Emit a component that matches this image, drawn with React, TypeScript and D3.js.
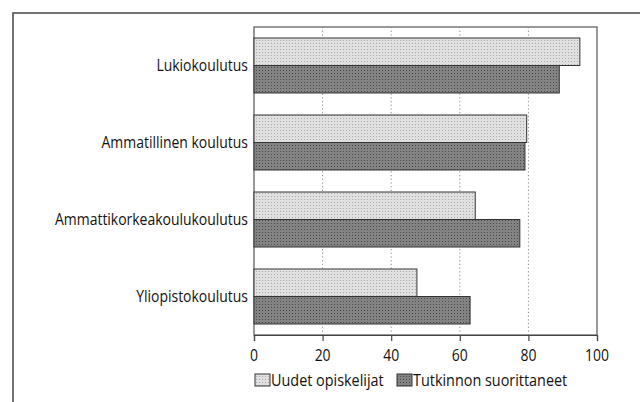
import React, { useEffect, useRef } from 'react'
import * as d3 from 'd3'

const categories = ['Lukiokoulutus', 'Ammatillinen koulutus', 'Ammattikorkeakoulukoulutus', 'Yliopistokoulutus']
const uudet = [95, 79.5, 64.5, 47.5]
const tutkinnon = [89, 79, 77.5, 63]
const seriesNames = ['Uudet opiskelijat', 'Tutkinnon suorittaneet']
const xTicks = [0, 20, 40, 60, 80, 100]

const W = 640
const H = 402
const FONT = '"Open Sans", "Noto Sans", sans-serif'
const SQUEEZE = 0.9 // the original face is narrower than Open Sans

export default function App() {
  const ref = useRef<SVGSVGElement>(null)

  useEffect(() => {
    const svg = d3.select(ref.current)
    svg.selectAll('*').remove()

    const plot = { left: 254, right: 597, top: 27, bottom: 335 }
    const x = d3.scaleLinear().domain([0, 100]).range([plot.left, plot.right])
    const y = d3.scaleBand().domain(categories).range([plot.top, plot.bottom])
    const barH = 27.5

    // narrow text: group at position, text squeezed horizontally
    const label = (px: number, py: number, txt: string, size: number, anchor: string) => {
      svg.append('g')
        .attr('transform', `translate(${px},${py}) scale(${SQUEEZE},1)`)
        .append('text')
        .attr('dy', '0.36em')
        .attr('text-anchor', anchor)
        .attr('font-family', FONT)
        .attr('font-size', size)
        .attr('fill', '#111')
        .text(txt)
    }

    // patterns for the screened fills
    const defs = svg.append('defs')
    const pats = [
      { id: 'light', base: '#e0e0e0', dot: '#aaa' },
      { id: 'dark', base: '#838383', dot: '#4a4a4a' }
    ]
    pats.forEach(p => {
      const pat = defs.append('pattern')
        .attr('id', p.id)
        .attr('width', 3)
        .attr('height', 3)
        .attr('patternUnits', 'userSpaceOnUse')
      pat.append('rect').attr('width', 3).attr('height', 3).attr('fill', p.base)
      pat.append('rect').attr('x', 1).attr('y', 1).attr('width', 1).attr('height', 1).attr('fill', p.dot)
    })

    // outer frame
    svg.append('path')
      .attr('d', `M13,${H} V13 H${W}`)
      .attr('fill', 'none')
      .attr('stroke', '#444')
      .attr('stroke-width', 1.5)

    // plot frame
    svg.append('rect')
      .attr('x', plot.left)
      .attr('y', plot.top)
      .attr('width', plot.right - plot.left)
      .attr('height', plot.bottom - plot.top)
      .attr('fill', '#fff')
      .attr('stroke', '#555')
      .attr('stroke-width', 1.2)

    // dotted grid
    svg.selectAll('.grid')
      .data(xTicks.filter(t => t > 0 && t < 100))
      .enter()
      .append('line')
      .attr('class', 'grid')
      .attr('x1', d => x(d))
      .attr('x2', d => x(d))
      .attr('y1', plot.top)
      .attr('y2', plot.bottom)
      .attr('stroke', '#888')
      .attr('stroke-width', 1)
      .attr('stroke-dasharray', '1.2,2.5')

    // bars
    const g = svg.append('g')
    categories.forEach((c, i) => {
      const cy = (y(c) as number) + y.bandwidth() / 2
      g.append('rect')
        .attr('x', x(0))
        .attr('y', cy - barH)
        .attr('width', x(uudet[i]) - x(0))
        .attr('height', barH)
        .attr('fill', 'url(#light)')
        .attr('stroke', '#333')
        .attr('stroke-width', 1)
      g.append('rect')
        .attr('x', x(0))
        .attr('y', cy)
        .attr('width', x(tutkinnon[i]) - x(0))
        .attr('height', barH)
        .attr('fill', 'url(#dark)')
        .attr('stroke', '#333')
        .attr('stroke-width', 1)
    })

    // category labels
    categories.forEach(c => {
      label(plot.left - 6, (y(c) as number) + y.bandwidth() / 2, c, 15.5, 'end')
    })

    // x axis
    const axis = svg.append('g')
      .attr('transform', `translate(0,${plot.bottom})`)
      .call(d3.axisBottom(x).tickValues(xTicks).tickSize(6).tickFormat(() => ''))
    axis.select('.domain').attr('stroke', '#444').attr('stroke-width', 1.2)
    axis.selectAll('.tick line').attr('stroke', '#444').attr('stroke-width', 1.2)
    xTicks.forEach(t => label(x(t), plot.bottom + 20, String(t), 15.5, 'middle'))

    // legend
    const legX = [255, 397]
    const fills = ['url(#light)', 'url(#dark)']
    seriesNames.forEach((s, i) => {
      svg.append('rect')
        .attr('x', legX[i])
        .attr('y', 374)
        .attr('width', 15)
        .attr('height', 12)
        .attr('fill', fills[i])
        .attr('stroke', '#333')
        .attr('stroke-width', 1)
      label(legX[i] + 16, 380, s, 16, 'start')
    })
  }, [])

  return (
    <svg
      ref={ref}
      width={W}
      height={H}
      style={{ position: 'absolute', left: 0, top: 0, background: '#fff' }}
    />
  )
}
